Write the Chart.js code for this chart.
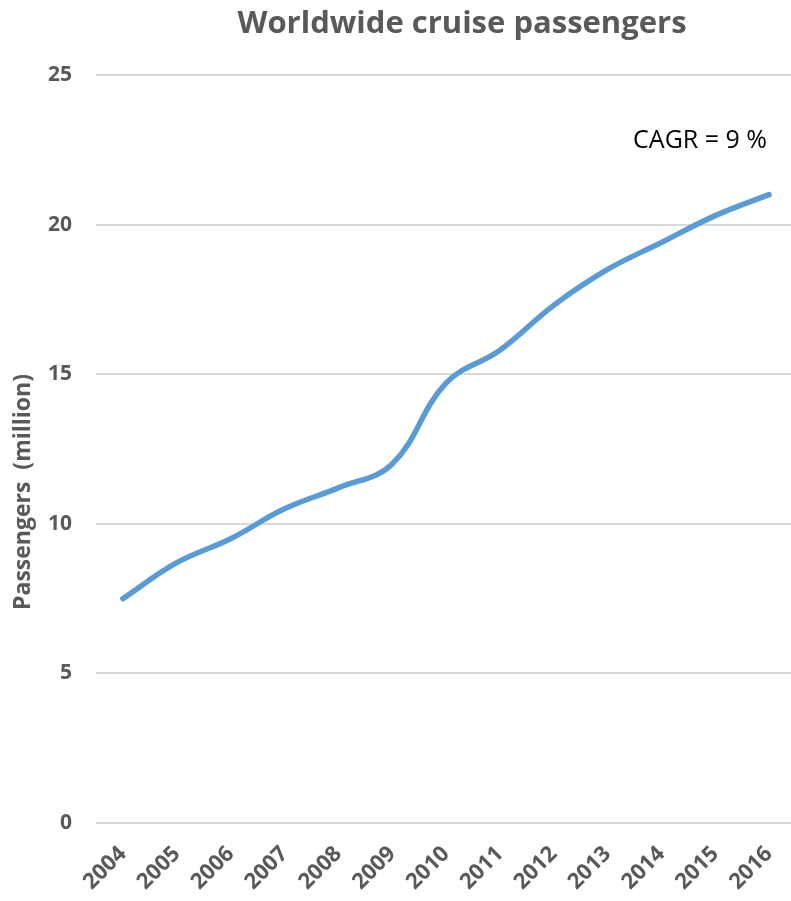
<!DOCTYPE html>
<html>
<head>
<meta charset="utf-8">
<script src="https://cdn.jsdelivr.net/npm/chart.js@4/dist/chart.umd.min.js"></script>
<style>
  html, body { margin: 0; padding: 0; background: #fff; overflow: hidden; }
  #wrap { position: relative; width: 796px; height: 901px; }
</style>
</head>
<body>
<div id="wrap"><canvas id="cruiseChart"></canvas></div>
<script>
// data
const years = ['2004', '2005', '2006', '2007', '2008', '2009', '2010',
               '2011', '2012', '2013', '2014', '2015', '2016'];
const passengers = [7.5, 8.7, 9.5, 10.5, 11.2, 12.0, 14.7, 15.8, 17.3, 18.5, 19.4, 20.3, 21.0];
const yTicks = [0, 5, 10, 15, 20, 25];

const chartTitle = 'Worldwide cruise passengers';
const yTitle = 'Passengers  (million)';
const cagrNote = 'CAGR = 9 %';

const grey = '#595959';
const fontFamily = '"Open Sans", Lato, sans-serif';

// draws title, y-axis title and the CAGR note
const textPlugin = {
    id: 'extraText',
    afterDraw(chart) {
        const ctx = chart.ctx;
        ctx.save();
        ctx.fillStyle = grey;
        ctx.font = 'bold 31px ' + fontFamily;
        ctx.textAlign = 'center';
        ctx.textBaseline = 'alphabetic';
        ctx.fillText(chartTitle, 462, 33);

        ctx.translate(23, 492);
        ctx.rotate(-Math.PI / 2);
        ctx.font = 'bold 23px ' + fontFamily;
        ctx.textBaseline = 'middle';
        ctx.fillText(yTitle, 0, 0);
        ctx.restore();

        ctx.save();
        ctx.fillStyle = '#000';
        ctx.font = '25px ' + fontFamily;
        ctx.textAlign = 'right';
        ctx.textBaseline = 'middle';
        ctx.fillText(cagrNote, 767, 141);
        ctx.restore();
    }
};

const ctx = document.getElementById('cruiseChart').getContext('2d');
const cruiseChart = new Chart(ctx, {
    type: 'line',
    data: {
        labels: years,
        datasets: [{
            label: 'Passengers',
            data: passengers,
            borderColor: '#5B9BD5',
            borderWidth: 5.5,
            borderCapStyle: 'round',
            pointRadius: 0,
            tension: 0.4,
            fill: false
        }]
    },
    options: {
        responsive: true,
        maintainAspectRatio: false,
        animation: false,
        layout: { padding: { top: 75, right: 0, left: 0, bottom: 0 } },
        plugins: {
            legend: { display: false },
            tooltip: { enabled: false }
        },
        scales: {
            x: {
                offset: true,
                grid: { display: false, drawTicks: false },
                border: { display: false },
                ticks: {
                    color: grey,
                    font: { family: fontFamily, size: 22, weight: 'bold' },
                    minRotation: 45,
                    maxRotation: 45,
                    padding: 18
                },
                afterFit(scale) {
                    scale.height = 78;
                    scale.paddingLeft = 0;
                    scale.paddingRight = 0;
                }
            },
            y: {
                min: 0,
                max: 25,
                afterBuildTicks(scale) {
                    scale.ticks = yTicks.map(v => ({ value: v }));
                },
                grid: { color: '#d9d9d9', lineWidth: 2, drawTicks: false },
                border: { display: false },
                ticks: {
                    color: grey,
                    font: { family: fontFamily, size: 21, weight: 'bold' },
                    padding: 24
                },
                afterFit(scale) { scale.width = 96; }
            }
        }
    },
    plugins: [textPlugin]
});
</script>
</body>
</html>
